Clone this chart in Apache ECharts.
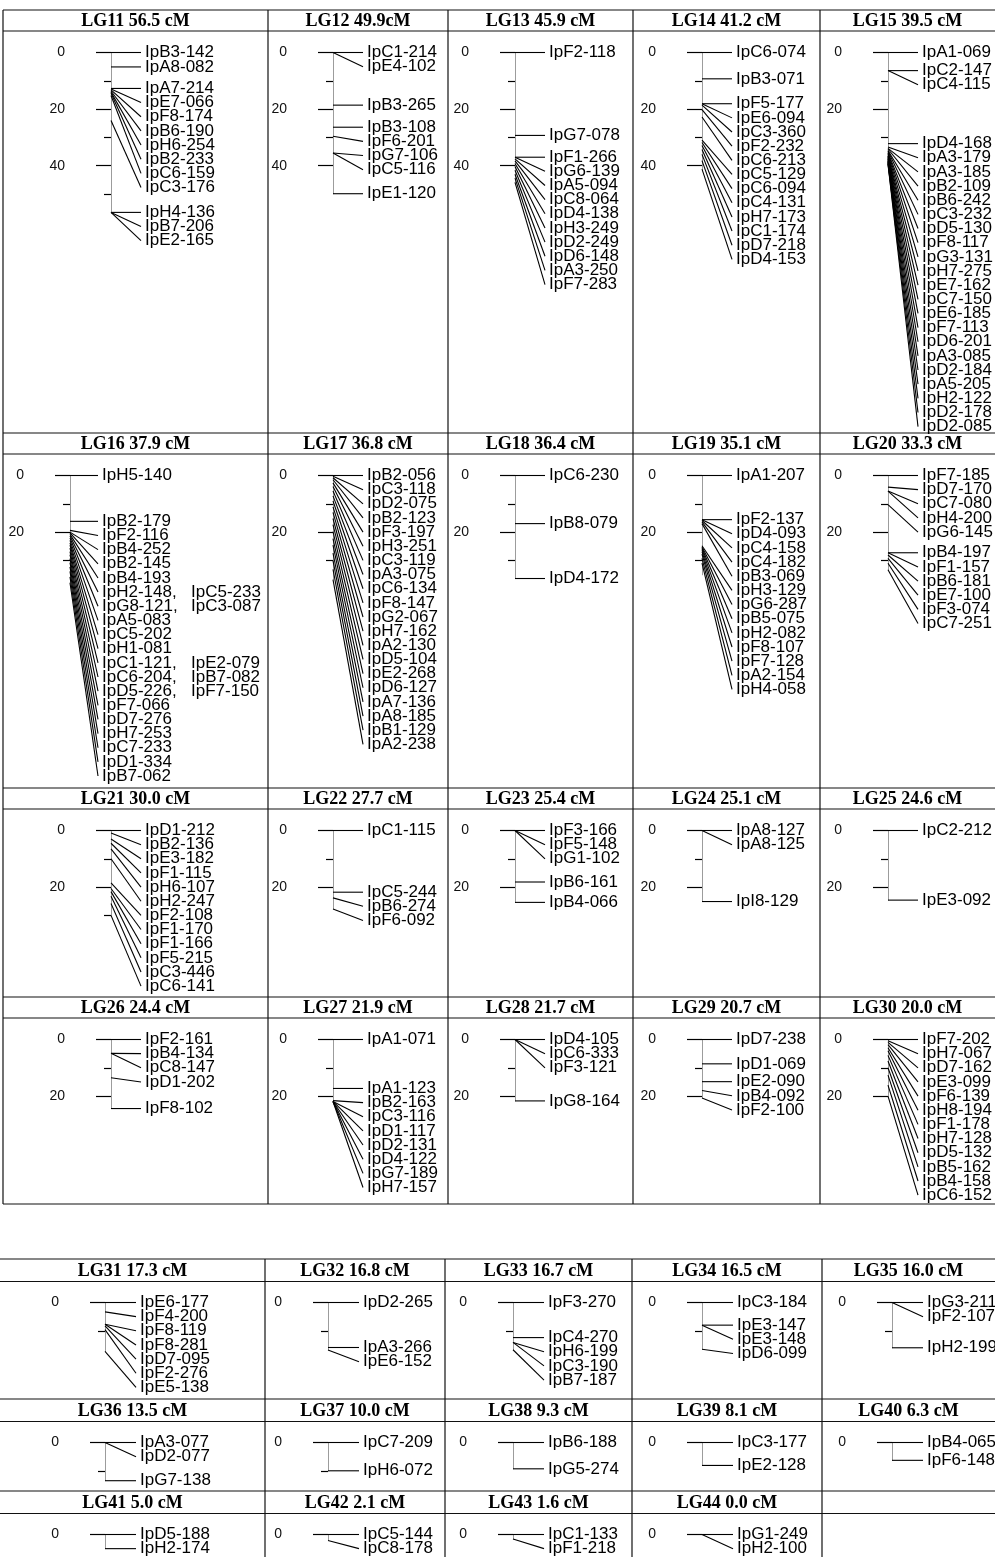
<!DOCTYPE html>
<html>
<head>
<meta charset="utf-8">
<script src="https://cdn.jsdelivr.net/npm/echarts@6/dist/echarts.min.js"></script>
<style>
  html, body { margin: 0; padding: 0; background: #fff; }
  #chart { width: 995px; height: 1557px; }
</style>
</head>
<body>
<div id="chart"></div>
<script>
// ---------------- DATA ----------------
const groupTitles = ['LG11 56.5 cM','LG12 49.9cM','LG13 45.9 cM','LG14 41.2 cM','LG15 39.5 cM',
  'LG16 37.9 cM','LG17 36.8 cM','LG18 36.4 cM','LG19 35.1 cM','LG20 33.3 cM',
  'LG21 30.0 cM','LG22 27.7 cM','LG23 25.4 cM','LG24 25.1 cM','LG25 24.6 cM',
  'LG26 24.4 cM','LG27 21.9 cM','LG28 21.7 cM','LG29 20.7 cM','LG30 20.0 cM',
  'LG31 17.3 cM','LG32 16.8 cM','LG33 16.7 cM','LG34 16.5 cM','LG35 16.0 cM',
  'LG36 13.5 cM','LG37 10.0 cM','LG38 9.3 cM','LG39 8.1 cM','LG40 6.3 cM',
  'LG41 5.0 cM','LG42 2.1 cM','LG43 1.6 cM','LG44 0.0 cM'];
const groupLengths = [56.5, 49.9, 45.9, 41.2, 39.5, 37.9, 36.8, 36.4, 35.1, 33.3,
  30.0, 27.7, 25.4, 25.1, 24.6, 24.4, 21.9, 21.7, 20.7, 20.0,
  17.3, 16.8, 16.7, 16.5, 16.0, 13.5, 10.0, 9.3, 8.1, 6.3, 5.0, 2.1, 1.6, 0.0];
const majorTickValues = [0, 20, 40];
const minorTickValues = [10, 30, 50];

const lg11Names = ['IpB3-142','IpA8-082','IpA7-214','IpE7-066','IpF8-174','IpB6-190','IpH6-254','IpB2-233','IpC6-159','IpC3-176','IpH4-136','IpB7-206','IpE2-165'];
const lg11Cm    = [0, 5.1, 12.7, 12.9, 13.2, 13.6, 14.0, 14.4, 15.2, 24.0, 56.5, 56.5, 56.5];
const lg12Names = ['IpC1-214','IpE4-102','IpB3-265','IpB3-108','IpF6-201','IpG7-106','IpC5-116','IpE1-120'];
const lg12Cm    = [0, 0, 18.6, 26.4, 29.6, 35.5, 35.5, 49.9];
const lg13Names = ['IpF2-118','IpG7-078','IpF1-266','IpG6-139','IpA5-094','IpC8-064','IpD4-138','IpH3-249','IpD2-249','IpD6-148','IpA3-250','IpF7-283'];
const lg13Cm    = [0, 29.3, 37.0, 37.0, 37.6, 38.3, 39.2, 40.3, 41.6, 43.0, 44.4, 45.9];
const lg14Names = ['IpC6-074','IpB3-071','IpF5-177','IpE6-094','IpC3-360','IpF2-232','IpC6-213','IpC5-129','IpC6-094','IpC4-131','IpH7-173','IpC1-174','IpD7-218','IpD4-153'];
const lg14Cm    = [0, 9.3, 18.1, 18.1, 18.6, 20.2, 22.8, 31.0, 31.8, 32.9, 34.3, 36.0, 38.2, 41.2];
const lg15Names = ['IpA1-069','IpC2-147','IpC4-115','IpD4-168','IpA3-179','IpA3-185','IpB2-109','IpB6-242','IpC3-232','IpD5-130','IpF8-117','IpG3-131','IpH7-275','IpE7-162','IpC7-150','IpE6-185','IpF7-113','IpD6-201','IpA3-085','IpD2-184','IpA5-205','IpH2-122','IpD2-178','IpD2-085'];
const lg15Cm    = [0, 6.4, 6.4, 32.2, 33.4, 33.9, 34.1, 34.6, 34.8, 35.3, 35.5, 35.9, 36.4, 36.6, 36.9, 37.3, 37.5, 37.8, 38.2, 38.4, 38.7, 39.0, 39.3, 39.5];
const lg16Names = ['IpH5-140','IpB2-179','IpF2-116','IpB4-252','IpB2-145','IpB4-193','IpH2-148, IpC5-233','IpG8-121, IpC3-087','IpA5-083','IpC5-202','IpH1-081','IpC1-121, IpE2-079','IpC6-204, IpB7-082','IpD5-226, IpF7-150','IpF7-066','IpD7-276','IpH7-253','IpC7-233','IpD1-334','IpB7-062'];
const lg16Cm    = [0, 16.2, 19.4, 20.0, 20.3, 20.8, 21.4, 22.1, 22.9, 23.8, 24.6, 25.7, 26.9, 28.0, 29.4, 30.8, 32.3, 33.9, 35.8, 37.9];
const lg17Names = ['IpB2-056','IpC3-118','IpD2-075','IpB2-123','IpF3-197','IpH3-251','IpC3-119','IpA3-075','IpC6-134','IpF8-147','IpG2-067','IpH7-162','IpA2-130','IpD5-104','IpE2-268','IpD6-127','IpA7-136','IpA8-185','IpB1-129','IpA2-238'];
const lg17Cm    = [0, 0.3, 0.8, 1.5, 2.6, 3.9, 5.5, 7.2, 9.0, 11.1, 13.0, 15.2, 17.4, 19.8, 22.3, 24.6, 27.4, 30.1, 33.2, 36.8];
const lg18Names = ['IpC6-230','IpB8-079','IpD4-172'];
const lg18Cm    = [0, 17.0, 36.4];
const lg19Names = ['IpA1-207','IpF2-137','IpD4-093','IpC4-158','IpC4-182','IpB3-069','IpH3-129','IpG6-287','IpB5-075','IpH2-082','IpF8-107','IpF7-128','IpA2-154','IpH4-058'];
const lg19Cm    = [0, 15.6, 15.6, 15.9, 16.4, 17.0, 24.8, 25.3, 25.7, 26.2, 26.9, 27.8, 29.3, 31.0];
const lg20Names = ['IpF7-185','IpD7-170','IpC7-080','IpH4-200','IpG6-145','IpB4-197','IpF1-157','IpB6-181','IpE7-100','IpF3-074','IpC7-251'];
const lg20Cm    = [0, 4.1, 5.5, 5.5, 10.3, 27.3, 27.3, 28.1, 29.3, 31.0, 33.3];
const lg21Names = ['IpD1-212','IpB2-136','IpE3-182','IpF1-115','IpH6-107','IpH2-247','IpF2-108','IpF1-170','IpF1-166','IpF5-215','IpC3-446','IpC6-141'];
const lg21Cm    = [0, 0.9, 3.0, 4.5, 6.5, 10.0, 18.5, 20.5, 21.6, 23.2, 25.8, 30.0];
const lg22Names = ['IpC1-115','IpC5-244','IpB6-274','IpF6-092'];
const lg22Cm    = [0, 21.8, 23.8, 27.7];
const lg23Names = ['IpF3-166','IpF5-148','IpG1-102','IpB6-161','IpB4-066'];
const lg23Cm    = [0, 0, 0, 18.2, 25.4];
const lg24Names = ['IpA8-127','IpA8-125','IpI8-129'];
const lg24Cm    = [0, 0, 25.1];
const lg25Names = ['IpC2-212','IpE3-092'];
const lg25Cm    = [0, 24.6];
const lg26Names = ['IpF2-161','IpB4-134','IpC8-147','IpD1-202','IpF8-102'];
const lg26Cm    = [0, 4.9, 4.9, 13.5, 24.4];
const lg27Names = ['IpA1-071','IpA1-123','IpB2-163','IpC3-116','IpD1-117','IpD2-131','IpD4-122','IpG7-189','IpH7-157'];
const lg27Cm    = [0, 17.3, 21.6, 21.9, 21.9, 21.9, 21.9, 21.9, 21.9];
const lg28Names = ['IpD4-105','IpC6-333','IpF3-121','IpG8-164'];
const lg28Cm    = [0, 0, 0, 21.7];
const lg29Names = ['IpD7-238','IpD1-069','IpE2-090','IpB4-092','IpF2-100'];
const lg29Cm    = [0, 8.6, 14.9, 18.0, 20.7];
const lg30Names = ['IpF7-202','IpH7-067','IpD7-162','IpE3-099','IpF6-139','IpH8-194','IpF1-178','IpH7-128','IpD5-132','IpB5-162','IpB4-158','IpC6-152'];
const lg30Cm    = [0, 0.4, 1.0, 1.8, 2.9, 4.0, 5.6, 7.6, 10.0, 12.6, 16.1, 20.0];
const lg31Names = ['IpE6-177','IpF4-200','IpF8-119','IpF8-281','IpD7-095','IpF2-276','IpE5-138'];
const lg31Cm    = [0, 3.3, 7.7, 7.7, 8.3, 9.6, 17.3];
const lg32Names = ['IpD2-265','IpA3-266','IpE6-152'];
const lg32Cm    = [0, 15.9, 16.8];
const lg33Names = ['IpF3-270','IpC4-270','IpH6-199','IpC3-190','IpB7-187'];
const lg33Cm    = [0, 12.4, 14.1, 14.1, 16.7];
const lg34Names = ['IpC3-184','IpE3-147','IpE3-148','IpD6-099'];
const lg34Cm    = [0, 8.0, 8.0, 16.5];
const lg35Names = ['IpG3-211','IpF2-107','IpH2-199'];
const lg35Cm    = [0, 0, 16.0];
const lg36Names = ['IpA3-077','IpD2-077','IpG7-138'];
const lg36Cm    = [0, 0, 13.5];
const lg37Names = ['IpC7-209','IpH6-072'];
const lg37Cm    = [0, 10.0];
const lg38Names = ['IpB6-188','IpG5-274'];
const lg38Cm    = [0, 9.3];
const lg39Names = ['IpC3-177','IpE2-128'];
const lg39Cm    = [0, 8.1];
const lg40Names = ['IpB4-065','IpF6-148'];
const lg40Cm    = [0, 6.3];
const lg41Names = ['IpD5-188','IpH2-174'];
const lg41Cm    = [0, 5.0];
const lg42Names = ['IpC5-144','IpC8-178'];
const lg42Cm    = [0, 2.1];
const lg43Names = ['IpC1-133','IpF1-218'];
const lg43Cm    = [0, 1.6];
const lg44Names = ['IpG1-249','IpH2-100'];
const lg44Cm    = [0, 0];

const groupNames = [lg11Names, lg12Names, lg13Names, lg14Names, lg15Names, lg16Names, lg17Names, lg18Names, lg19Names, lg20Names,
  lg21Names, lg22Names, lg23Names, lg24Names, lg25Names, lg26Names, lg27Names, lg28Names, lg29Names, lg30Names,
  lg31Names, lg32Names, lg33Names, lg34Names, lg35Names, lg36Names, lg37Names, lg38Names, lg39Names, lg40Names,
  lg41Names, lg42Names, lg43Names, lg44Names];
const groupCms = [lg11Cm, lg12Cm, lg13Cm, lg14Cm, lg15Cm, lg16Cm, lg17Cm, lg18Cm, lg19Cm, lg20Cm,
  lg21Cm, lg22Cm, lg23Cm, lg24Cm, lg25Cm, lg26Cm, lg27Cm, lg28Cm, lg29Cm, lg30Cm,
  lg31Cm, lg32Cm, lg33Cm, lg34Cm, lg35Cm, lg36Cm, lg37Cm, lg38Cm, lg39Cm, lg40Cm,
  lg41Cm, lg42Cm, lg43Cm, lg44Cm];

// ---------------- LAYOUT ----------------
const S = 2.83;          // px per cM
const GAP = 14.15;       // label stacking distance
const LABEL_FONT = '17px "Liberation Sans", Arial, sans-serif';
const TITLE_FONT = 'bold 18px "Liberation Serif", "Times New Roman", serif';
const topCols = [3, 268, 448, 633, 820, 995];
const topRows = [10, 433, 788, 997, 1204];
const topHeader = 21, topZero = 42.5;
const botCols = [0, 265, 445, 632, 822, 995];
const botRows = [1259, 1399, 1491, 1557];
const botHeader = 22.5, botZero = 43.5;
const topChromDX = [108, 65, 67, 69, 68];
const botChromDX = [105, 63, 68, 70, 70];

function cellOf(g) {
  if (g < 20) {
    const r = Math.floor(g / 5), c = g % 5;
    let dx = topChromDX[c];
    if (g === 5) dx = 67;
    return { x0: topCols[c], x1: topCols[c + 1], top: topRows[r], hh: topHeader,
             chromX: topCols[c] + dx, zeroY: topRows[r] + topZero, labelDX: g === 5 ? 32 : 34 };
  }
  const k = g - 20, r = Math.floor(k / 5), c = k % 5;
  return { x0: botCols[c], x1: botCols[c + 1], top: botRows[r], hh: botHeader,
           chromX: botCols[c] + botChromDX[c], zeroY: botRows[r] + botZero, labelDX: 35 };
}

const grids = [], xAxes = [], yAxes = [], series = [], graphics = [];

// table lines
function hline(x1, x2, y) { graphics.push({ type: 'line', shape: { x1, y1: y, x2, y2: y }, style: { stroke: '#111', lineWidth: 1.2 }, silent: true }); }
function vline(x, y1, y2) { graphics.push({ type: 'line', shape: { x1: x, y1, x2: x, y2 }, style: { stroke: '#111', lineWidth: 1.2 }, silent: true }); }
topRows.forEach((y, i) => { hline(topCols[0], 995, y); if (i < topRows.length - 1) hline(topCols[0], 995, y + topHeader); });
topCols.slice(0, 5).forEach(x => vline(x, topRows[0], topRows[4]));
botRows.slice(0, 3).forEach(y => { hline(0, 995, y); hline(0, 995, y + botHeader); });
botCols.slice(1, 5).forEach(x => vline(x, botRows[0], 1557));

function makeRender(g, cell) {
  return function (params, api) {
    const idx = params.dataIndex;
    const cms = groupCms[g];
    let prev = -1e9, ly = 0;
    for (let k = 0; k <= idx; k++) {
      const y = api.coord([0, cms[k]])[1];
      ly = Math.max(y, prev + GAP);
      prev = ly;
    }
    const p = api.coord([0, cms[idx]]);
    const lx = p[0] + cell.labelDX;
    const parts = groupNames[g][idx].split(', ');
    const children = [{
      type: 'line',
      shape: { x1: p[0], y1: p[1], x2: lx - 4, y2: ly },
      style: { stroke: '#000', lineWidth: 1.1 }
    }];
    parts.forEach((t, j) => {
      children.push({
        type: 'text',
        style: { text: j < parts.length - 1 ? t + ',' : t, x: lx + j * 89, y: ly,
                 font: LABEL_FONT, fill: '#000', verticalAlign: 'middle', align: 'left' }
      });
    });
    return { type: 'group', children };
  };
}

groupTitles.forEach((title, g) => {
  const cell = cellOf(g);
  graphics.push({
    type: 'text', silent: true,
    style: { text: title, x: (cell.x0 + cell.x1) / 2, y: cell.top + cell.hh / 2 + 1,
             font: TITLE_FONT, fill: '#000', align: 'center', verticalAlign: 'middle' }
  });
  const len = groupLengths[g];
  const maxV = Math.max(len, 0.05);
  grids.push({ left: cell.chromX, top: cell.zeroY, width: 40, height: maxV * S,
               containLabel: false, outerBoundsMode: 'none' });
  xAxes.push({ gridIndex: g, type: 'value', min: 0, max: 1, show: false });
  const major = majorTickValues.filter(v => v <= len);
  const minor = minorTickValues.filter(v => v <= len);
  yAxes.push({
    gridIndex: g, type: 'value', inverse: true, min: 0, max: maxV, position: 'left',
    axisLine: { show: true, onZero: false, lineStyle: { color: '#9c9c9c', width: 1 } },
    axisTick: { show: true, customValues: major, length: 15, lineStyle: { color: '#000', width: 1.2 } },
    axisLabel: { show: true, customValues: major, margin: 46, color: '#111', fontSize: 14,
                 fontFamily: '"Liberation Sans", Arial, sans-serif' },
    splitLine: { show: false }
  });
  yAxes.push({
    gridIndex: g, type: 'value', inverse: true, min: 0, max: maxV, position: 'left', offset: 0,
    axisLine: { show: false },
    axisTick: minor.length ? { show: true, customValues: minor, length: 7, lineStyle: { color: '#000', width: 1.2 } } : { show: false },
    axisLabel: { show: false },
    splitLine: { show: false }
  });
  series.push({
    type: 'custom', name: title, xAxisIndex: g, yAxisIndex: 2 * g, clip: false, silent: true,
    data: groupCms[g].map((c, k) => [0, c, k]),
    renderItem: makeRender(g, cell)
  });
});

const chart = echarts.init(document.getElementById('chart'), null, { renderer: 'canvas' });
chart.setOption({
  backgroundColor: '#fff',
  animation: false,
  grid: grids,
  xAxis: xAxes,
  yAxis: yAxes,
  series: series,
  graphic: { elements: graphics }
});
</script>
</body>
</html>
